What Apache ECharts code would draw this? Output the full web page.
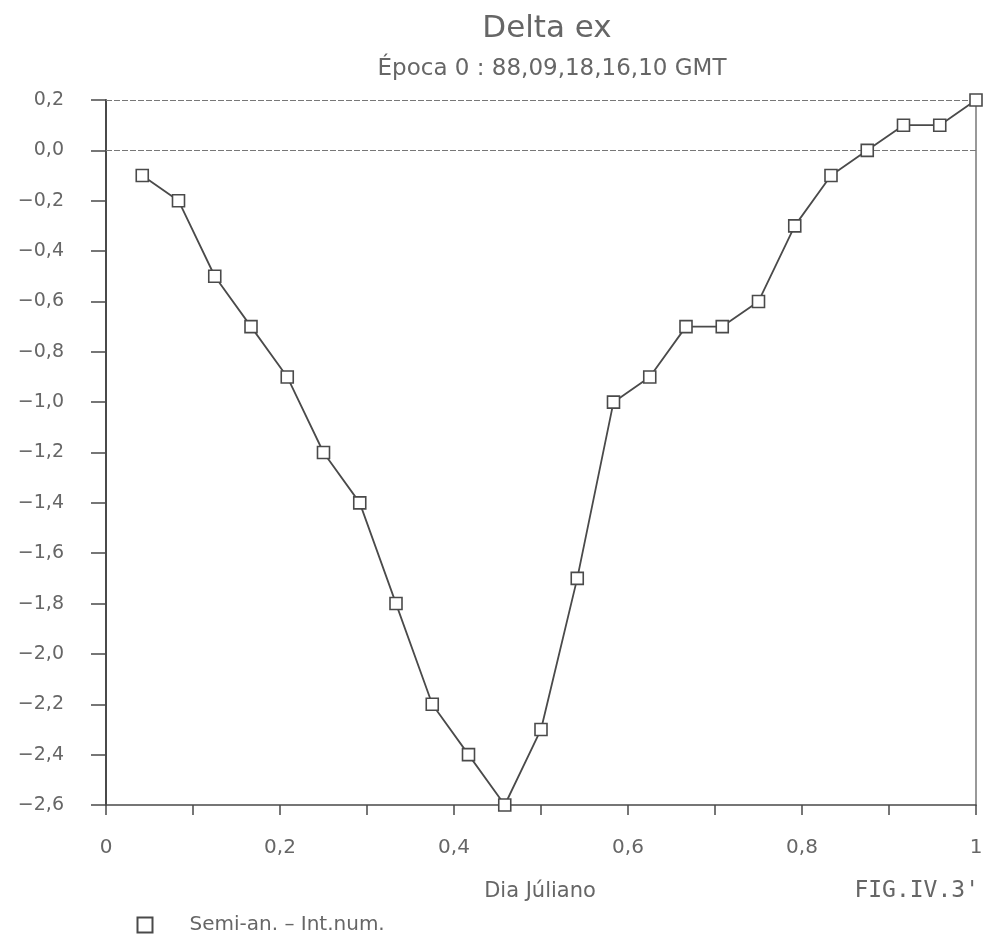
<!DOCTYPE html>
<html>
<head>
<meta charset="utf-8">
<script src="https://cdn.jsdelivr.net/npm/echarts@6/dist/echarts.min.js"></script>
<style>
  html, body { margin: 0; padding: 0; background: #fff; }
  #chart { width: 987px; height: 940px; }
</style>
</head>
<body>
<div id="chart"></div>
<script>
// dia juliano (fraccao do dia), 24 pontos horarios
const dias = [1, 2, 3, 4, 5, 6, 7, 8, 9, 10, 11, 12, 13, 14, 15, 16, 17, 18, 19, 20, 21, 22, 23, 24].map(h => h / 24)
// delta ex
const deltaEx = [-0.1, -0.2, -0.5, -0.7, -0.9, -1.2, -1.4, -1.8, -2.2, -2.4, -2.6, -2.3,
  -1.7, -1.0, -0.9, -0.7, -0.7, -0.6, -0.3, -0.1, 0.0, 0.1, 0.1, 0.2]
const serieNome = 'Semi-an. \u2013 Int.num.'

const ink = '#4a4a4a'
const txt = '#666'
const font = 'DejaVu Sans'

const chart = echarts.init(document.getElementById('chart'))

function virgula(v, casas) {
  const s = Math.abs(v).toFixed(casas).replace('.', ',')
  return (v < -1e-9 ? '\u2212' : '') + s
}

const option = {
  backgroundColor: '#fff',
  animation: false,
  title: [
    {
      text: 'Delta ex',
      left: 542,
      top: 8,
      textAlign: 'center',
      textStyle: { fontFamily: font, fontWeight: 'normal', fontSize: 31, color: txt }
    },
    {
      text: '\u00c9poca 0 : 88,09,18,16,10 GMT',
      left: 547,
      top: 53,
      textAlign: 'center',
      textStyle: { fontFamily: font, fontWeight: 'normal', fontSize: 23, color: txt }
    },
    {
      text: 'Dia J\u00faliano',
      left: 535,
      top: 876,
      textAlign: 'center',
      textStyle: { fontFamily: font, fontWeight: 'normal', fontSize: 21, color: txt }
    },
    {
      text: 'FIG.IV.3\'',
      left: 974,
      top: 875,
      textAlign: 'right',
      textStyle: { fontFamily: 'DejaVu Sans Mono', fontWeight: 'normal', fontSize: 23, color: txt }
    }
  ],
  legend: {
    left: 130,
    top: 910,
    itemWidth: 15,
    itemHeight: 15,
    data: [{ name: serieNome, icon: 'rect', itemStyle: { color: 'none', borderColor: ink, borderWidth: 2 } }],
    textStyle: { fontFamily: font, fontSize: 20, color: txt, padding: [0, 0, 0, 32] }
  },
  grid: { left: 106, right: 11, top: 100, bottom: 135 },
  xAxis: {
    type: 'value',
    min: 0,
    max: 1,
    interval: 0.1,
    axisLine: { onZero: false, lineStyle: { color: ink, width: 1.5 } },
    axisTick: { length: 10, lineStyle: { color: ink, width: 1.5 } },
    axisLabel: {
      margin: 33,
      fontFamily: font,
      fontSize: 20,
      color: txt,
      formatter(v) {
        const d = Math.round(v * 10)
        if (d % 2 !== 0) return ''
        if (d === 0) return '0'
        if (d === 10) return '1'
        return virgula(d / 10, 1)
      }
    },
    splitLine: { show: false }
  },
  yAxis: [
    {
      type: 'value',
      min: -2.6,
      max: 0.2,
      interval: 0.2,
      axisLine: { onZero: false, lineStyle: { color: ink, width: 2 } },
      axisTick: { length: 15, lineStyle: { color: ink, width: 1.5 } },
      axisLabel: {
        margin: 42,
        fontFamily: font,
        fontSize: 19,
        color: txt,
        formatter(v) { return virgula(Math.round(v * 10) / 10, 1) }
      },
      splitLine: { show: false }
    },
    {
      type: 'value',
      position: 'right',
      min: -2.6,
      max: 0.2,
      interval: 0.2,
      axisLine: { show: true, onZero: false, lineStyle: { color: '#777', width: 1.5 } },
      axisTick: { show: false },
      axisLabel: { show: false },
      splitLine: { show: false }
    }
  ],
  series: [
    {
      name: serieNome,
      type: 'line',
      data: dias.map((d, i) => [d, deltaEx[i]]),
      symbol: 'rect',
      symbolSize: 12,
      showAllSymbol: true,
      lineStyle: { color: ink, width: 1.8 },
      itemStyle: { color: '#fff', borderColor: ink, borderWidth: 1.6 },
      z: 5,
      markLine: {
        silent: true,
        symbol: 'none',
        label: { show: false },
        lineStyle: { color: '#777', width: 1.2, type: [6, 2] },
        data: [{ yAxis: 0 }, { yAxis: 0.2 }]
      }
    }
  ]
}

chart.setOption(option)
</script>
</body>
</html>
